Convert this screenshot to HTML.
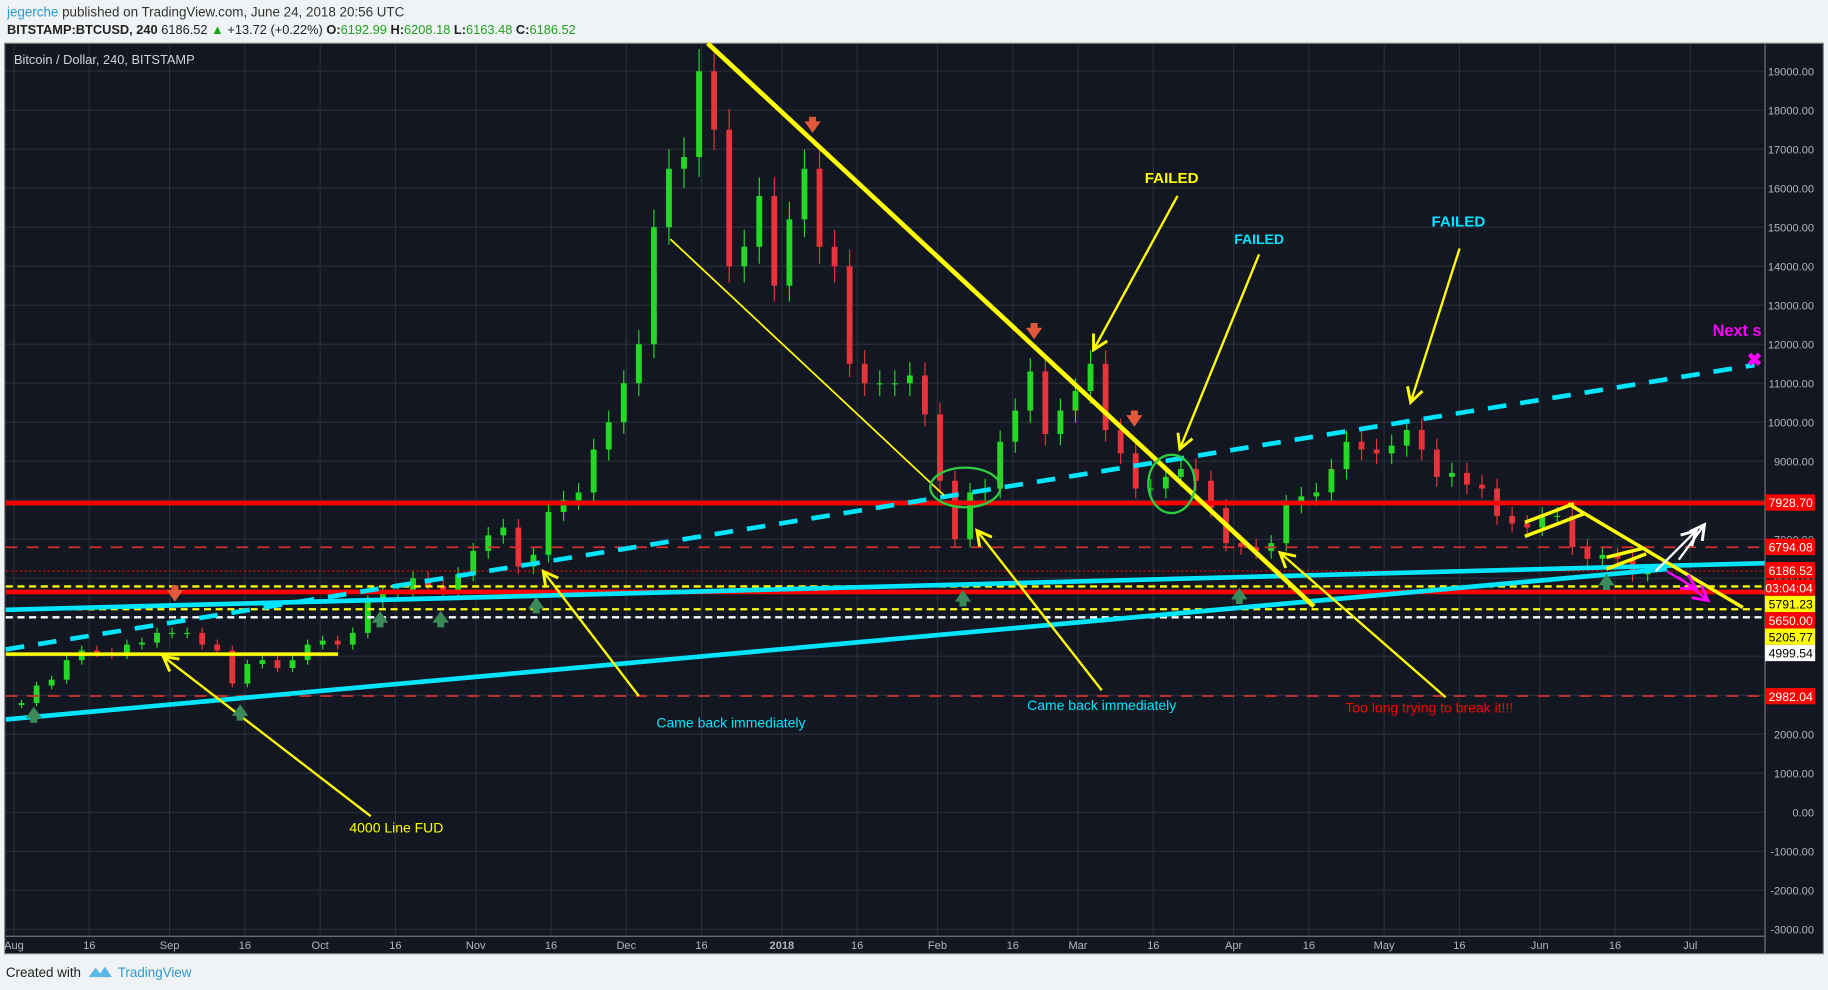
<!DOCTYPE html>
<html><head><meta charset="utf-8">
<style>
html,body{margin:0;padding:0;background:#f0f3f5;width:1828px;height:990px;overflow:hidden}
svg{display:block}
text{font-family:"Liberation Sans",sans-serif}
</style></head>
<body>
<svg id="chart" width="1828" height="990" viewBox="0 0 1568 849" xmlns="http://www.w3.org/2000/svg">
<rect x="0" y="0" width="1568" height="849" fill="#f0f3f5"/>
<text x="6" y="14" font-size="11.5" fill="#333"><tspan fill="#2a9ad6">jegerche</tspan> published on TradingView.com, June 24, 2018 20:56 UTC</text>
<text x="6" y="29" font-size="11" fill="#222"><tspan font-weight="bold">BITSTAMP:BTCUSD, 240</tspan> 6186.52 <tspan fill="#1ea31e">▲</tspan> +13.72 (+0.22%) <tspan font-weight="bold">O:</tspan><tspan fill="#1ea31e">6192.99</tspan> <tspan font-weight="bold">H:</tspan><tspan fill="#1ea31e">6208.18</tspan> <tspan font-weight="bold">L:</tspan><tspan fill="#1ea31e">6163.48</tspan> <tspan font-weight="bold">C:</tspan><tspan fill="#1ea31e">6186.52</tspan></text>
<rect x="4" y="37" width="1560" height="781" fill="#131722" stroke="#888" stroke-width="1"/>
<g id="grid"></g>
<g id="candles"></g>
<g id="draw"></g>
<line x1="5" y1="803" x2="1514" y2="803" stroke="#777" stroke-width="1"/>
<line x1="1514" y1="38" x2="1514" y2="817" stroke="#777" stroke-width="1"/>
<g id="axes"></g>
<text x="12" y="55" font-size="11" fill="#d1d4dc">Bitcoin / Dollar, 240, BITSTAMP</text>
<text x="5" y="838" font-size="11.5" fill="#222">Created with</text>
<path d="M76 838 l6 -8 l4 5 l4 -6 l6 9 z" fill="#59b8e6"/>
<text x="101" y="838" font-size="11.5" fill="#2a9ad6">TradingView</text>
</svg>
<script>
const closes=[2750,2800,3250,3400,3900,4150,4100,4050,4300,4350,4600,4600,4600,4300,4150,3300,3800,3900,3700,3900,4300,4400,4300,4600,5400,5600,5700,6000,5800,5700,6100,6700,7100,7300,6300,6600,7700,8000,8200,9300,10000,11000,12000,15000,16500,16800,19000,17500,14000,14500,15800,13500,15200,16500,14500,14000,11500,11000,11000,11000,11200,10200,8500,7000,8200,8300,9500,10300,11300,9700,10300,10800,11500,9800,9200,8300,8300,8600,8800,8500,7800,6900,6800,6700,6900,7900,8100,8200,8800,9500,9300,9200,9400,9800,9300,8600,8700,8400,8300,7600,7400,7300,7600,7600,6800,6500,6600,6500,6100,6186];
const yTicks=[19000,18000,17000,16000,15000,14000,13000,12000,11000,10000,9000,8000,7000,6000,5000,4000,3000,2000,1000,0,-1000,-2000,-3000];
const xTickDays=[0,15,31,46,61,76,92,107,122,137,153,168,184,199,212,227,243,258,273,288,304,319,334];
const xTickLabels=["Aug","16","Sep","16","Oct","16","Nov","16","Dec","16","2018","16","Feb","16","Mar","16","Apr","16","May","16","Jun","16","Jul"];
const levelVals=[7928.70,6794.08,6186.52,5791.23,5650.00,5205.77,4999.54,2982.04];
const priceLabels=["7928.70","6794.08","6186.52","03:04:04","5791.23","5650.00","5205.77","4999.54","2982.04"];
const labelColors=["#f00","#f00","#f00","#f00","#ff0","#f00","#ff0","#fff","#f00"];
const labelYs=[431,469,489,504,518,532,546,560,597];

const NS="http://www.w3.org/2000/svg";
const y=v=>61+(19000-v)*0.033455;
const x=d=>12+d*4.305;
function mk(p,tag,at){const e=document.createElementNS(NS,tag);for(const k in at)e.setAttribute(k,at[k]);p.appendChild(e);return e;}
const G=document.getElementById('grid'),C=document.getElementById('candles'),D=document.getElementById('draw'),A=document.getElementById('axes');
yTicks.forEach(v=>{
 const l=mk(G,'line',{x1:5,x2:1514,y1:y(v),y2:y(v),stroke:'#2a2e39','stroke-width':1});
 
 
 const t=mk(A,'text',{x:1556,y:y(v)+3.5,'font-size':9.5,fill:'#b2b5be','text-anchor':'end'});
 t.textContent=v.toFixed(2);
 
 
});
xTickDays.forEach((d,i)=>{
 const l=mk(G,'line',{x1:x(d),x2:x(d),y1:38,y2:803,stroke:'#2a2e39','stroke-width':1});
 
 
 const t=mk(A,'text',{x:x(d),y:814,'font-size':9.5,fill:'#b2b5be','text-anchor':'middle','font-weight':xTickLabels[i]==='2018'?'bold':'normal'});
 t.textContent=xTickLabels[i];
 
 
});
closes.forEach((c,i)=>{
 if(i===0)return;
 const o=closes[i-1],d=i*3-1.5,up=c>=o;
 const hi=Math.max(o,c)*1.03,lo=Math.min(o,c)*0.97;
 const col=up?'#26d826':'#e8333a';
 const w=mk(C,'line',{x1:x(d),x2:x(d),y1:y(hi),y2:y(lo),stroke:col,'stroke-width':1});
 
 
 const r=mk(C,'rect',{x:x(d)-2.5,width:5,y:y(Math.max(o,c)),height:Math.max(1,Math.abs(y(o)-y(c))),fill:col});
 
 
});
function hl(v,col,w,dash,name){const l=mk(D,'line',{x1:5,x2:1514,y1:y(v),y2:y(v),stroke:col,'stroke-width':w,'stroke-dasharray':dash||'none'});}
hl(levelVals[0],'#f00',4,'','level-7928');
hl(levelVals[1],'#d32f2f',1.5,'10 8','level-6794');
hl(levelVals[2],'#f00',0.8,'2 2','last-price-line');
hl(levelVals[3],'#ff0',2,'6 4','level-5791');
hl(levelVals[4],'#f00',4,'','level-5650');
hl(levelVals[5],'#ff0',2,'6 4','level-5205');
hl(levelVals[6],'#fff',2,'6 4','level-4999');
hl(levelVals[7],'#d32f2f',1.5,'10 8','level-2982');
function ln(x1,y1,x2,y2,col,w,name,dash){const l=mk(D,'line',{x1,y1,x2,y2,stroke:col,'stroke-width':w,'stroke-dasharray':dash||'none','stroke-linecap':'butt'});return l;}
ln(5,523,1514,483,'#00e5ff',4,'upper-cyan-trendline');
ln(5,617,1430,488,'#00e5ff',4,'lower-cyan-trendline');
ln(5,557,1505,313,'#00e5ff',4,'cyan-dashed-trendline','16 12');
ln(607,37,1127,520,'#ff0',4,'main-descending-line');
ln(575,205,810,425,'#ff0',1.5,'thin-yellow-line');
ln(5,561,290,561,'#ff0',3,'4000-line');
ln(1345,432,1495,521,'#ff0',3,'june-descending-line');
ln(1308,448,1350,432,'#ff0',3,'flag-top');
ln(1308,460,1360,440,'#ff0',3,'flag-bottom');
ln(1378,478,1410,470,'#ff0',3,'flag2-top');
ln(1378,488,1412,475,'#ff0',3,'flag2-bottom');
function arrow(x1,y1,x2,y2,col,name){ln(x1,y1,x2,y2,col,2,name);const a=Math.atan2(y2-y1,x2-x1),L=14;
 const p=mk(D,'polyline',{points:`${x2-L*Math.cos(a-0.5)},${y2-L*Math.sin(a-0.5)} ${x2},${y2} ${x2-L*Math.cos(a+0.5)},${y2-L*Math.sin(a+0.5)}`,fill:'none',stroke:col,'stroke-width':2.5});
 
 }
arrow(318,700,140,563,'#ff0','fud-arrow');
arrow(548,597,466,490,'#ff0','nov-arrow');
arrow(945,592,838,455,'#ff0','feb-arrow');
arrow(1240,598,1098,474,'#ff0','apr-arrow');
arrow(1010,168,938,300,'#ff0','failed1-arrow');
arrow(1080,218,1012,385,'#ff0','failed2-arrow');
arrow(1252,213,1210,345,'#ff0','failed3-arrow');
arrow(1420,490,1455,455,'#fff','white-arrow1');
arrow(1440,480,1462,450,'#fff','white-arrow2');
arrow(1440,495,1465,515,'#f0f','magenta-arrow1');
arrow(1430,490,1455,505,'#f0f','magenta-arrow2');
[[828,418,30,17],[1005,415,20,25]].forEach(e=>{const el=mk(D,'ellipse',{cx:e[0],cy:e[1],rx:e[2],ry:e[3],fill:'none',stroke:'#2ecc40','stroke-width':2});});
[[29,612],[206,610],[326,530],[378,530],[460,518],[826,512],[1063,510],[1378,498]].forEach(p=>{const el=mk(D,'path',{d:`M${p[0]-7} ${p[1]+4} L${p[0]} ${p[1]-6} L${p[0]+7} ${p[1]+4} L${p[0]+3} ${p[1]+4} L${p[0]+3} ${p[1]+8} L${p[0]-3} ${p[1]+8} L${p[0]-3} ${p[1]+4}Z`,fill:'#3b8a5a'});});
[[150,510],[697,108],[887,285],[973,360]].forEach(p=>{const el=mk(D,'path',{d:`M${p[0]-7} ${p[1]-4} L${p[0]} ${p[1]+6} L${p[0]+7} ${p[1]-4} L${p[0]+3} ${p[1]-4} L${p[0]+3} ${p[1]-8} L${p[0]-3} ${p[1]-8} L${p[0]-3} ${p[1]-4}Z`,fill:'#e0593a'});});
function tx(s,xx,yy,col,fs,name,bold){const t=mk(D,'text',{x:xx,y:yy,fill:col,'font-size':fs,'text-anchor':'middle','font-weight':bold?'bold':'normal'});t.textContent=s;}
tx('FAILED',1005,157,'#ff0',13,'failed-label-1',true);
tx('FAILED',1080,209,'#00e5ff',12,'failed-label-2',true);
tx('FAILED',1251,194,'#00e5ff',13,'failed-label-3',true);
tx('Came back immediately',627,624,'#00e5ff',12,'came-back-label-1');
tx('Came back immediately',945,609,'#00e5ff',12,'came-back-label-2');
tx('Too long trying to break it!!!',1226,611,'#f00',12,'too-long-label');
tx('4000 Line FUD',340,714,'#ff0',12,'fud-label');
tx('Next s',1490,288,'#f0f',14,'next-support-label',true);
tx('✖',1505,314,'#f0f',16,'target-marker',true);
priceLabels.forEach((s,i)=>{
 const r=mk(A,'rect',{x:1514,y:labelYs[i]-7,width:43,height:14,fill:labelColors[i]});
 
 
 const t=mk(A,'text',{x:1555,y:labelYs[i]+4,'font-size':10.5,fill:labelColors[i]==='#f00'?'#fff':'#000','text-anchor':'end'});
 t.textContent=s;
 
 
});
</script>
</body></html>
